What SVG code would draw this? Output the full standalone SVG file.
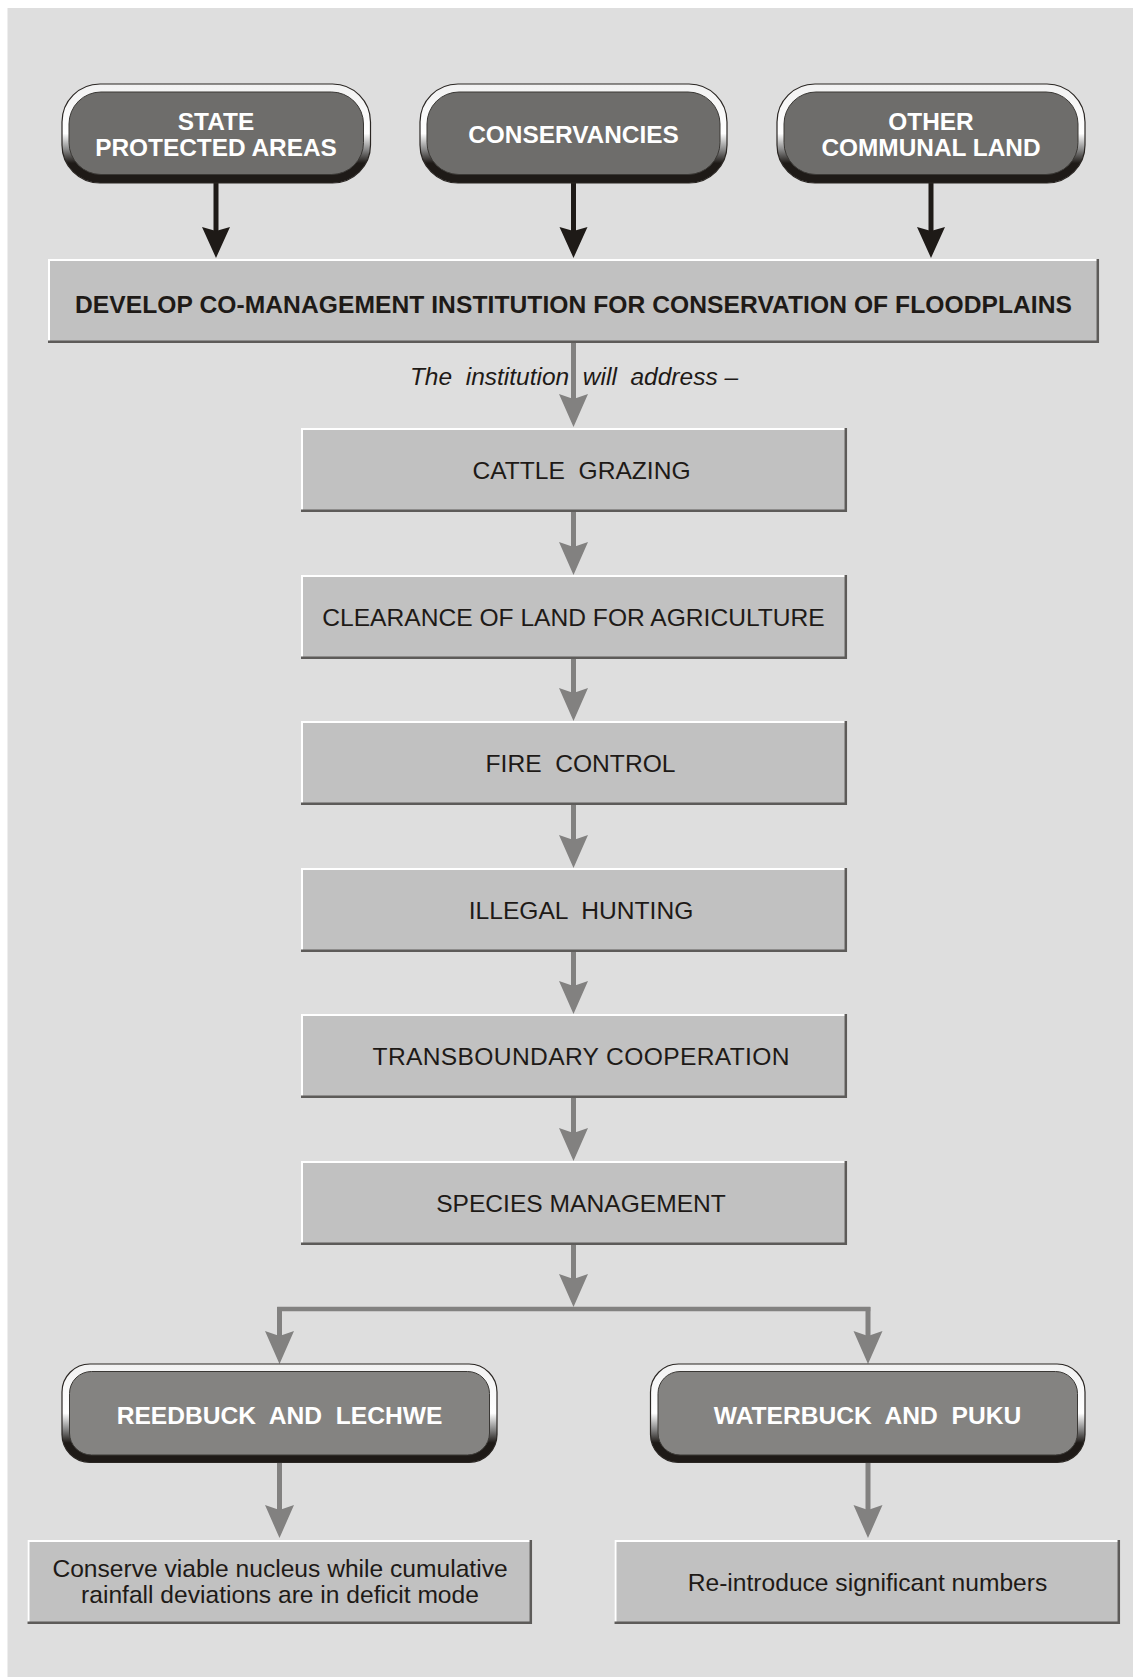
<svg xmlns="http://www.w3.org/2000/svg" width="1133" height="1677" viewBox="0 0 1133 1677">
<defs>
<linearGradient id="ring" x1="0" y1="0" x2="0" y2="1">
<stop offset="0" stop-color="#f2f2f2"/>
<stop offset="0.5" stop-color="#ffffff"/>
<stop offset="0.66" stop-color="#8a8a8a"/>
<stop offset="0.8" stop-color="#1e1a17"/>
<stop offset="1" stop-color="#1e1a17"/>
</linearGradient>
<marker id="ag" markerUnits="userSpaceOnUse" viewBox="-6 -15 36 30" markerWidth="36" markerHeight="30" refX="0" refY="0" orient="auto">
<path d="M28,0 L-5,-14.5 L0,0 L-5,14.5 Z" fill="#828180"/>
</marker>
<marker id="ab" markerUnits="userSpaceOnUse" viewBox="-6 -15 36 30" markerWidth="36" markerHeight="30" refX="0" refY="0" orient="auto">
<path d="M27,0 L-4,-14 L0,0 L-4,14 Z" fill="#1e1a17"/>
</marker>
</defs>
<style>
text{font-family:"Liberation Sans",Arial,Helvetica,sans-serif;white-space:pre}
.box{fill:#c1c1c1}
.hl{fill:none;stroke:#ffffff;stroke-width:2}
.sh{fill:none;stroke:#5d5b59;stroke-width:2.5}
.ring{fill:url(#ring);stroke:#2a2623;stroke-width:1.2}
.pt{fill:#6e6d6b;stroke:#3a3835;stroke-width:1}
.pb{fill:#848381;stroke:#3a3835;stroke-width:1}
.pl{fill:#ffffff;font-weight:bold;font-size:24.4px;text-anchor:middle}
.pl2{fill:#ffffff;font-weight:bold;font-size:24.6px;text-anchor:middle}
.bt{fill:#1e1a17;font-size:24.6px;text-anchor:middle}
.btb{fill:#1e1a17;font-size:24.6px;font-weight:bold;text-anchor:middle}
.it{fill:#1e1a17;font-size:24.5px;font-style:italic;text-anchor:middle}
.cg{fill:none;stroke:#828180;stroke-width:5}
.cb{fill:none;stroke:#1e1a17;stroke-width:5}
</style>
<rect x="0" y="0" width="1133" height="1677" fill="#ffffff"/>
<rect x="7.5" y="8" width="1125.5" height="1669" fill="#dedede"/>

<g id="connectors">
<path class="cb" d="M216,183 V231" marker-end="url(#ab)"/>
<path class="cb" d="M573.5,183 V231" marker-end="url(#ab)"/>
<path class="cb" d="M931,183 V231" marker-end="url(#ab)"/>
<path class="cg" d="M573.5,343 V399" marker-end="url(#ag)"/>
<path class="cg" d="M573.5,512 V547" marker-end="url(#ag)"/>
<path class="cg" d="M573.5,659 V693" marker-end="url(#ag)"/>
<path class="cg" d="M573.5,805 V840" marker-end="url(#ag)"/>
<path class="cg" d="M573.5,952 V986" marker-end="url(#ag)"/>
<path class="cg" d="M573.5,1098 V1133" marker-end="url(#ag)"/>
<path class="cg" d="M573.5,1245 V1279" marker-end="url(#ag)"/>
<path class="cg" style="stroke-width:4.5" d="M277.2,1309 H870.3"/>
<path class="cg" d="M279.5,1307 V1336" marker-end="url(#ag)"/>
<path class="cg" d="M868,1307 V1336" marker-end="url(#ag)"/>
<path class="cg" d="M279.5,1462 V1510" marker-end="url(#ag)"/>
<path class="cg" d="M868,1462 V1510" marker-end="url(#ag)"/>
<text class="it" x="574" y="385">The  institution  will  address –</text>
</g>

<g id="state">
<rect class="ring" x="62" y="84" width="308.5" height="99" rx="38" ry="38"/>
<rect class="pt" x="69" y="92" width="294.5" height="82.5" rx="32" ry="32"/>
<text class="pl" x="216" y="129.5">STATE</text>
<text class="pl" x="216" y="155.5">PROTECTED AREAS</text>
</g>
<g id="conservancies">
<rect class="ring" x="420" y="84" width="307" height="99" rx="38" ry="38"/>
<rect class="pt" x="427" y="92" width="293" height="82.5" rx="32" ry="32"/>
<text class="pl" x="573.5" y="143">CONSERVANCIES</text>
</g>
<g id="other">
<rect class="ring" x="777" y="84" width="308" height="99" rx="38" ry="38"/>
<rect class="pt" x="784" y="92" width="294" height="82.5" rx="32" ry="32"/>
<text class="pl" x="931" y="129.5">OTHER</text>
<text class="pl" x="931" y="155.5">COMMUNAL LAND</text>
</g>

<g id="develop">
<rect class="box" x="48" y="259" width="1051" height="84"/>
<path class="hl" d="M49,343 V260 H1099"/>
<path class="sh" d="M1097.8,259 V341.8 H48"/>
<text class="btb" x="573.5" y="313" textLength="997" lengthAdjust="spacing">DEVELOP CO-MANAGEMENT INSTITUTION FOR CONSERVATION OF FLOODPLAINS</text>
</g>

<g id="cattle">
<rect class="box" x="301" y="428" width="546" height="84"/>
<path class="hl" d="M302,512 V429 H847"/>
<path class="sh" d="M845.8,428 V510.8 H301"/>
<text class="bt" x="581.5" y="479">CATTLE  GRAZING</text>
</g>
<g id="clearance">
<rect class="box" x="301" y="575" width="546" height="84"/>
<path class="hl" d="M302,659 V576 H847"/>
<path class="sh" d="M845.8,575 V657.8 H301"/>
<text class="bt" x="573.5" y="626">CLEARANCE OF LAND FOR AGRICULTURE</text>
</g>
<g id="fire">
<rect class="box" x="301" y="721" width="546" height="84"/>
<path class="hl" d="M302,805 V722 H847"/>
<path class="sh" d="M845.8,721 V803.8 H301"/>
<text class="bt" x="580.5" y="772">FIRE  CONTROL</text>
</g>
<g id="hunting">
<rect class="box" x="301" y="868" width="546" height="84"/>
<path class="hl" d="M302,952 V869 H847"/>
<path class="sh" d="M845.8,868 V950.8 H301"/>
<text class="bt" x="581" y="919">ILLEGAL  HUNTING</text>
</g>
<g id="transboundary">
<rect class="box" x="301" y="1014" width="546" height="84"/>
<path class="hl" d="M302,1098 V1015 H847"/>
<path class="sh" d="M845.8,1014 V1096.8 H301"/>
<text class="bt" x="581" y="1065" textLength="417" lengthAdjust="spacing">TRANSBOUNDARY COOPERATION</text>
</g>
<g id="species">
<rect class="box" x="301" y="1161" width="546" height="84"/>
<path class="hl" d="M302,1245 V1162 H847"/>
<path class="sh" d="M845.8,1161 V1243.8 H301"/>
<text class="bt" x="581" y="1212">SPECIES MANAGEMENT</text>
</g>

<g id="reedbuck">
<rect class="ring" x="62" y="1364" width="435" height="98.5" rx="28" ry="28"/>
<rect class="pb" x="69.5" y="1371.5" width="420" height="83.5" rx="22" ry="22"/>
<text class="pl2" x="279.5" y="1424">REEDBUCK  AND  LECHWE</text>
</g>
<g id="waterbuck">
<rect class="ring" x="650.5" y="1364" width="434.5" height="98.5" rx="28" ry="28"/>
<rect class="pb" x="658" y="1371.5" width="419.5" height="83.5" rx="22" ry="22"/>
<text class="pl2" x="867.5" y="1424">WATERBUCK  AND  PUKU</text>
</g>

<g id="conserve">
<rect class="box" x="27.5" y="1540" width="504.5" height="84"/>
<path class="hl" d="M28.5,1624 V1541 H532"/>
<path class="sh" d="M530.8,1540 V1622.8 H27.5"/>
<text class="bt" x="280" y="1577">Conserve viable nucleus while cumulative</text>
<text class="bt" x="280" y="1603">rainfall deviations are in deficit mode</text>
</g>
<g id="reintroduce">
<rect class="box" x="614.5" y="1540" width="505.5" height="84"/>
<path class="hl" d="M615.5,1624 V1541 H1120"/>
<path class="sh" d="M1118.8,1540 V1622.8 H614.5"/>
<text class="bt" x="867.5" y="1590.5">Re-introduce significant numbers</text>
</g>
</svg>
